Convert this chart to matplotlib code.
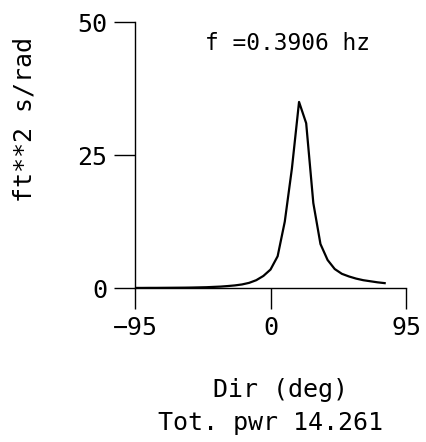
import matplotlib
matplotlib.use("Agg")
import matplotlib.pyplot as plt

# Direccion (grados) y densidad espectral
direction = [-95, -90, -85, -80, -75, -70, -65, -60, -55, -50, -45, -40,
             -35, -30, -25, -20, -15, -10, -5, 0, 5, 10, 15, 20, 25, 30,
             35, 40, 45, 50, 55, 60, 65, 70, 75, 80]
energy = [0.05, 0.05, 0.06, 0.06, 0.07, 0.08, 0.09, 0.10, 0.12, 0.15, 0.18, 0.24,
          0.30, 0.40, 0.52, 0.70, 1.00, 1.50, 2.30, 3.50, 6.00, 12.5, 22.5, 35.0,
          31.0, 16.0, 8.3, 5.3, 3.6, 2.7, 2.2, 1.8, 1.5, 1.3, 1.1, 0.95]
xticks = [-95, 0, 95]
yticks = [0, 25, 50]
freq_label = "f =0.3906 hz"
total_power = "Tot. pwr 14.261"

font = "DejaVu Sans Mono"

fig = plt.figure(figsize=(4.27, 4.42), dpi=100)
ax = fig.add_axes([0.316, 0.348, 0.635, 0.602])

ax.plot(direction, energy, color="black", lw=1.6)

ax.set_xlim(-95, 95)
ax.set_ylim(0, 50)
ax.set_xticks(xticks)
ax.set_xticklabels(["\u221295", "0", "95"])
ax.set_yticks(yticks)

for side in ["top", "right"]:
    ax.spines[side].set_visible(False)
for side in ["left", "bottom"]:
    ax.spines[side].set_linewidth(1.0)
ax.tick_params(direction="out", length=15, width=1.0, pad=5,
               labelsize=18, labelfontfamily=font)

ax.text(0.258, 0.921, freq_label, transform=ax.transAxes, fontsize=16.5,
        family=font, va="center", ha="left")

fig.text(25 / 427, 1 - 120 / 442, "ft**2 s/rad", rotation=90, fontsize=18,
         family=font, va="center", ha="center")
fig.text(281 / 427, 1 - 390 / 442, "Dir (deg)", fontsize=18,
         family=font, va="center", ha="center")
fig.text(270 / 427, 1 - 423 / 442, total_power, fontsize=18,
         family=font, va="center", ha="center")

fig.savefig("out.png", dpi=100)
